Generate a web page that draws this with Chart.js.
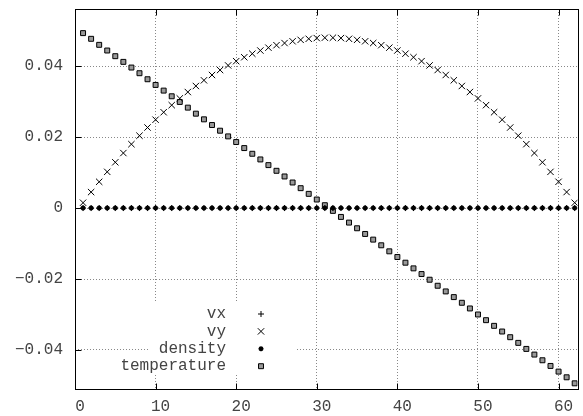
<!DOCTYPE html>
<html>
<head>
<meta charset="utf-8">
<script src="https://cdn.jsdelivr.net/npm/chart.js@4/dist/chart.umd.min.js"></script>
<style>
html, body { margin: 0; padding: 0; background: #fff; }
</style>
</head>
<body>
<canvas id="chart" width="583" height="416"></canvas>
<script>
const xs = [1,2,3,4,5,6,7,8,9,10,11,12,13,14,15,16,17,18,19,20,21,22,23,24,25,26,27,28,29,30,
    31,32,33,34,35,36,37,38,39,40,41,42,43,44,45,46,47,48,49,50,51,52,53,54,55,56,57,58,59,60,61,62];

const vx = [0,0,0,0,0,0,0,0,0,0,0,0,0,0,0,0,0,0,0,0,0,0,0,0,0,0,0,0,0,0,0,
    0,0,0,0,0,0,0,0,0,0,0,0,0,0,0,0,0,0,0,0,0,0,0,0,0,0,0,0,0,0,0];

const vy = [0.0015,0.0045,0.0074,0.0102,0.0129,0.0155,0.0180,0.0204,0.0227,0.0249,
    0.0270,0.0290,0.0309,0.0327,0.0344,0.0360,0.0375,0.0389,0.0402,0.0414,
    0.0425,0.0435,0.0444,0.0452,0.0459,0.0465,0.0470,0.0474,0.0477,0.0479,
    0.0480,0.0480,0.0479,0.0477,0.0474,0.0470,0.0465,0.0459,0.0452,0.0444,
    0.0435,0.0425,0.0414,0.0402,0.0389,0.0375,0.0360,0.0344,0.0327,0.0309,
    0.0290,0.0270,0.0249,0.0227,0.0204,0.0180,0.0155,0.0129,0.0102,0.0074,
    0.0045,0.0015];

const density = [0,0,0,0,0,0,0,0,0,0,0,0,0,0,0,0,0,0,0,0,0,0,0,0,0,0,0,0,0,0,0,
    0,0,0,0,0,0,0,0,0,0,0,0,0,0,0,0,0,0,0,0,0,0,0,0,0,0,0,0,0,0,0];

const temperature = [0.0493,0.0477,0.0460,0.0444,0.0428,0.0412,0.0396,0.0380,0.0363,0.0347,
    0.0331,0.0315,0.0299,0.0283,0.0266,0.0250,0.0234,0.0218,0.0202,0.0186,
    0.0169,0.0153,0.0137,0.0121,0.0105,0.0089,0.0072,0.0056,0.0040,0.0024,
    0.0008,-0.0008,-0.0025,-0.0041,-0.0057,-0.0073,-0.0089,-0.0105,-0.0122,-0.0138,
    -0.0154,-0.0170,-0.0186,-0.0202,-0.0219,-0.0235,-0.0251,-0.0267,-0.0283,-0.0300,
    -0.0316,-0.0332,-0.0348,-0.0364,-0.0380,-0.0397,-0.0413,-0.0429,-0.0445,-0.0461,
    -0.0477,-0.0494];

const xTicks = [0, 10, 20, 30, 40, 50, 60];
const yTicks = [-0.04, -0.02, 0, 0.02, 0.04];
const yTickLabels = ['\u22120.04', '\u22120.02', '0', '0.02', '0.04'];

const FONT = "'Liberation Mono', 'DejaVu Sans Mono', monospace";
const TEXT = '#444';

function pts(ys) {
    return xs.map((x, i) => ({ x: x, y: ys[i] }));
}

// gnuplot style frame with inward tick marks
const framePlugin = {
    id: 'frame',
    afterDraw(chart) {
        const { ctx, chartArea: a, scales } = chart;
        const L = Math.round(a.left) + 0.5, R = Math.round(a.right) + 0.5;
        const T = Math.round(a.top) + 0.5, B = Math.round(a.bottom) + 0.5;
        ctx.save();
        ctx.setLineDash([]);
        ctx.strokeStyle = '#000';
        ctx.lineWidth = 1;
        ctx.strokeRect(L, T, R - L, B - T);
        ctx.beginPath();
        xTicks.forEach(v => {
            const px = Math.round(scales.x.getPixelForValue(v)) + 0.5;
            ctx.moveTo(px, B); ctx.lineTo(px, B - 6);
            ctx.moveTo(px, T); ctx.lineTo(px, T + 6);
        });
        yTicks.forEach(v => {
            const py = Math.round(scales.y.getPixelForValue(v)) + 0.5;
            ctx.moveTo(L, py); ctx.lineTo(L + 6, py);
        });
        ctx.stroke();
        ctx.restore();
    }
};

// key inside the plot, bottom left
const keyPlugin = {
    id: 'key',
    beforeDatasetsDraw(chart) {
        const { ctx, chartArea: a } = chart;
        ctx.save();
        ctx.fillStyle = '#fff';
        ctx.fillRect(a.left + 75, 303, 145, 70);
        const textRight = a.left + 151;
        const symX = textRight + 35;
        ctx.font = '16px ' + FONT;
        ctx.textAlign = 'right';
        ctx.textBaseline = 'middle';
        chart.data.datasets.forEach((ds, i) => {
            const y = 314 + i * 17.4;
            ctx.fillStyle = TEXT;
            ctx.fillText(ds.label, textRight, y);
            ctx.fillStyle = ds.backgroundColor;
            ctx.strokeStyle = ds.borderColor;
            ctx.lineWidth = ds.borderWidth;
            Chart.helpers.drawPoint(ctx, {
                pointStyle: ds.pointStyle,
                radius: ds.pointRadius,
                borderWidth: ds.borderWidth,
                rotation: 0
            }, symX, y);
        });
        ctx.restore();
    }
};

const ctx = document.getElementById('chart').getContext('2d');
new Chart(ctx, {
    type: 'scatter',
    data: {
        datasets: [
            { label: 'vx', data: pts(vx), pointStyle: 'cross', pointRadius: 3,
              borderWidth: 1, borderColor: '#000', backgroundColor: '#000' },
            { label: 'vy', data: pts(vy), pointStyle: 'crossRot', pointRadius: 4.5,
              borderWidth: 1, borderColor: '#000', backgroundColor: '#000' },
            { label: 'density', data: pts(density), pointStyle: 'star', pointRadius: 2.5,
              borderWidth: 1.5, borderColor: '#000', backgroundColor: '#000' },
            { label: 'temperature', data: pts(temperature), pointStyle: 'rect', pointRadius: 3.5,
              borderWidth: 1, borderColor: '#000', backgroundColor: '#999' }
        ]
    },
    options: {
        responsive: false,
        animation: false,
        events: [],
        layout: { padding: { top: 9, left: 0, right: 0, bottom: 0 } },
        plugins: { legend: { display: false }, tooltip: { enabled: false } },
        scales: {
            x: {
                type: 'linear',
                min: 0,
                max: 62.35,
                afterBuildTicks: s => { s.ticks = xTicks.map(v => ({ value: v })); },
                afterFit: s => { s.height = 27; s.paddingLeft = 0; s.paddingRight = 0; },
                ticks: {
                    includeBounds: false,
                    autoSkip: false,
                    maxRotation: 0,
                    padding: 8,
                    labelOffset: 5,
                    color: TEXT,
                    font: { family: FONT, size: 16 },
                    callback: v => String(v)
                },
                grid: { color: '#888', drawTicks: false, lineWidth: 1 },
                border: { display: false, dash: [1, 2] }
            },
            y: {
                type: 'linear',
                min: -0.051,
                max: 0.0561,
                afterBuildTicks: s => { s.ticks = yTicks.map(v => ({ value: v })); },
                afterFit: s => { s.width = 75; s.paddingTop = 0; s.paddingBottom = 0; },
                ticks: {
                    includeBounds: false,
                    autoSkip: false,
                    padding: 12,
                    color: TEXT,
                    font: { family: FONT, size: 16 },
                    callback: v => {
                        const i = yTicks.findIndex(t => Math.abs(t - v) < 1e-9);
                        return i >= 0 ? yTickLabels[i] : '';
                    }
                },
                grid: { color: '#888', drawTicks: false, lineWidth: 1 },
                border: { display: false, dash: [1, 2] }
            }
        }
    },
    plugins: [keyPlugin, framePlugin]
});
</script>
</body>
</html>
